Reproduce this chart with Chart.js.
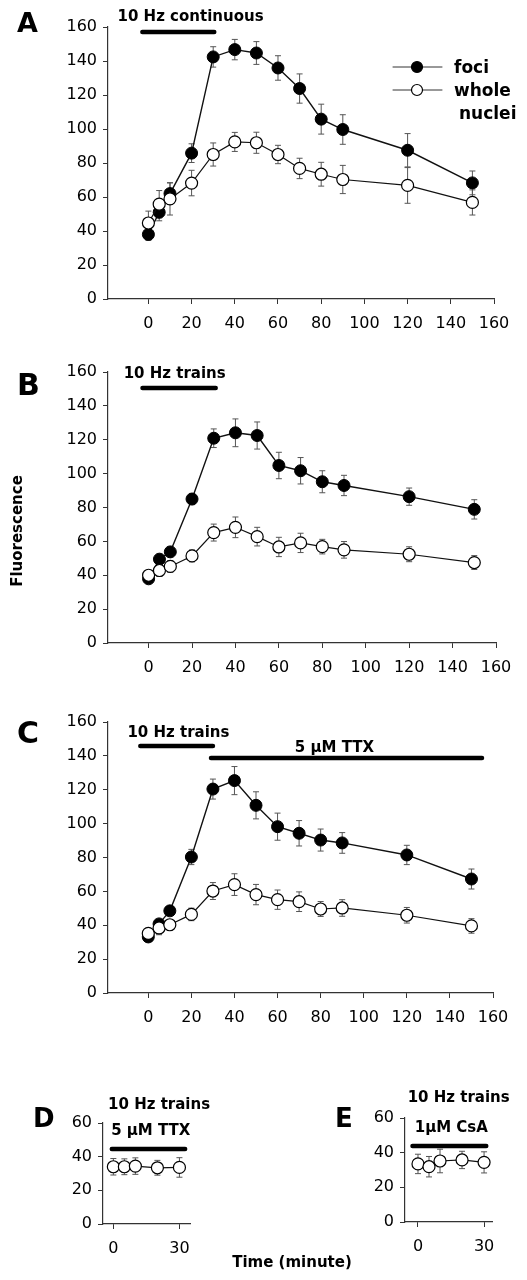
<!DOCTYPE html>
<html>
<head>
<meta charset="utf-8">
<script src="https://cdn.jsdelivr.net/npm/chart.js@4.4.0/dist/chart.umd.min.js"></script>
<style>
  body { margin: 0; background: #fff; width: 527px; height: 1280px; position: relative; overflow: hidden; font-family: "DejaVu Sans", sans-serif; }
  canvas { position: absolute; }
  .axisTitle { position: absolute; font-weight: bold; font-size: 15px; line-height: 18px; text-align: center; color: #000; }
</style>
</head>
<body>
<canvas id="chartA" width="527" height="340" style="left:0;top:0;width:527px;height:340px"></canvas>
<canvas id="chartB" width="527" height="340" style="left:0;top:340px;width:527px;height:340px"></canvas>
<canvas id="chartC" width="527" height="360" style="left:0;top:680px;width:527px;height:360px"></canvas>
<canvas id="chartD" width="260" height="200" style="left:0;top:1060px;width:260px;height:200px"></canvas>
<canvas id="chartE" width="227" height="200" style="left:300px;top:1060px;width:227px;height:200px"></canvas>
<div class="axisTitle" style="left:-53px;top:522px;width:140px;transform:rotate(-90deg)">Fluorescence</div>
<div class="axisTitle" style="left:192px;top:1253px;width:200px">Time (minute)</div>
<script>
// time points (minutes)
const timesLong = [0, 5, 10, 20, 30, 40, 50, 60, 70, 80, 90, 120, 150];
const timesShort = [0, 5, 10, 20, 30];
const seriesNames = ['foci', 'whole', 'nuclei'];

// tick labels
const xTicksLong = [0, 20, 40, 60, 80, 100, 120, 140, 160];
const yTicksLong = [0, 20, 40, 60, 80, 100, 120, 140, 160];
const xTicksShort = [0, 30];
const yTicksShort = [0, 20, 40, 60];

// A - 10 Hz continuous
const fociA = [38, 51, 62, 85.8, 142.4, 146.7, 144.7, 135.9, 123.8, 105.8, 99.7, 87.5, 68.3];
const fociErrA = [3.5, 5, 6.3, 5.5, 6, 6, 6.7, 7.2, 8.6, 8.8, 8.7, 9.8, 7];
const nucleiA = [44.7, 55.8, 58.9, 68.2, 85, 92.4, 91.9, 85, 76.8, 73.4, 70.3, 66.8, 56.8];
const nucleiErrA = [7, 8, 9.5, 7.5, 6.8, 5.6, 6.2, 5.4, 6, 7, 8.3, 10.5, 7.4];

// B - 10 Hz trains
const fociB = [37.9, 49.5, 53.8, 85, 120.9, 124.1, 122.5, 104.8, 101.7, 95.2, 93, 86.4, 78.9];
const fociErrB = [2, 3, 3, 3.3, 5.5, 8.2, 8, 7.8, 7.8, 6.5, 6, 5.1, 5.7];
const nucleiB = [40, 42.8, 45.2, 51.4, 65.2, 68.3, 62.8, 56.7, 59.1, 56.9, 55, 52.4, 47.5];
const nucleiErrB = [2, 3.5, 3.5, 3.5, 5, 6.1, 5.5, 5.7, 5.7, 4.3, 4.9, 4.4, 4.1];

// C - 10 Hz trains then TTX
const fociC = [33.1, 40.8, 48.5, 80.3, 120.4, 125.4, 110.8, 98.2, 94.3, 90.3, 88.6, 81.5, 67.3];
const fociErrC = [2, 2.5, 2.5, 4.5, 5.9, 8.3, 8, 8, 7.5, 6.5, 6.1, 5.7, 5.9];
const nucleiC = [35.2, 38.4, 40.3, 46.4, 60.2, 64, 58.1, 55.1, 53.9, 49.6, 50.2, 45.9, 39.6];
const nucleiErrC = [2, 4, 2.5, 3.7, 5, 6.4, 6, 5.7, 5.8, 4.4, 4.9, 4.6, 4.3];

// D - trains + TTX, E - trains + CsA
const nucleiD = [34, 34, 34.4, 33.4, 33.6];
const nucleiErrD = [4.9, 4.7, 4.9, 4.4, 5.8];
const nucleiE = [33.5, 31.9, 35.2, 35.8, 34.4];
const nucleiErrE = [5.6, 5.9, 6.8, 5, 6.1];

const FONT = 'DejaVu Sans';

function pts(xs, ys) {
  return xs.map((t, i) => ({ x: t, y: ys[i] }));
}

function fociSet(xs, ys, errs) {
  return {
    label: seriesNames[0], data: pts(xs, ys), errors: errs, order: 1,
    borderColor: '#111', borderWidth: 1.4, pointRadius: 6,
    pointBackgroundColor: '#000', pointBorderColor: '#000', pointBorderWidth: 1
  };
}
function nucleiSet(xs, ys, errs) {
  return {
    label: seriesNames[1] + ' ' + seriesNames[2], data: pts(xs, ys), errors: errs, order: 0,
    borderColor: '#111', borderWidth: 1.2, pointRadius: 6,
    pointBackgroundColor: '#fff', pointBorderColor: '#000', pointBorderWidth: 1.2
  };
}

// error bars go under the lines and markers
const errorBars = {
  id: 'errorBars',
  beforeDatasetsDraw(chart) {
    const ctx = chart.ctx, ys = chart.scales.y;
    ctx.save();
    ctx.strokeStyle = '#555';
    ctx.lineWidth = 1;
    chart.data.datasets.forEach((ds, i) => {
      chart.getDatasetMeta(i).data.forEach((p, j) => {
        const v = ds.data[j].y, e = ds.errors[j];
        const top = ys.getPixelForValue(v + e), bot = ys.getPixelForValue(v - e);
        ctx.beginPath();
        ctx.moveTo(p.x, top); ctx.lineTo(p.x, bot);
        ctx.moveTo(p.x - 3, top); ctx.lineTo(p.x + 3, top);
        ctx.moveTo(p.x - 3, bot); ctx.lineTo(p.x + 3, bot);
        ctx.stroke();
      });
    });
    ctx.restore();
  }
};

// stimulus bars, their labels, panel letter
function notesPlugin(cfg) {
  return {
    id: 'notes',
    afterDraw(chart) {
      const ctx = chart.ctx, xs = chart.scales.x, ys = chart.scales.y;
      ctx.save();
      ctx.strokeStyle = '#000';
      ctx.lineCap = 'round';
      ctx.lineWidth = 4.5;
      cfg.bars.forEach(b => {
        ctx.beginPath();
        ctx.moveTo(xs.getPixelForValue(b.x0), ys.getPixelForValue(b.y));
        ctx.lineTo(xs.getPixelForValue(b.x1), ys.getPixelForValue(b.y));
        ctx.stroke();
      });
      ctx.fillStyle = '#000';
      ctx.font = 'bold 15px "' + FONT + '"';
      ctx.textAlign = 'left';
      ctx.textBaseline = 'middle';
      cfg.texts.forEach(t => {
        ctx.fillText(t.text, xs.getPixelForValue(t.x), ys.getPixelForValue(t.y));
      });
      ctx.textBaseline = 'alphabetic';
      ctx.font = 'bold ' + cfg.letter.size + 'px "' + FONT + '"';
      ctx.fillText(cfg.letter.text, cfg.letter.x, cfg.letter.y);
      if (cfg.legend) drawLegend(chart);
      ctx.restore();
    }
  };
}

function drawLegend(chart) {
  const ctx = chart.ctx;
  const rows = [67, 90];
  chart.data.datasets.slice().sort((a, b) => b.order - a.order).forEach((ds, i) => {
    const y = rows[i];
    ctx.strokeStyle = '#333';
    ctx.lineWidth = 1;
    ctx.beginPath(); ctx.moveTo(393, y); ctx.lineTo(442, y); ctx.stroke();
    ctx.beginPath(); ctx.arc(417, y, 5.5, 0, Math.PI * 2);
    ctx.fillStyle = ds.pointBackgroundColor; ctx.fill();
    ctx.strokeStyle = '#000'; ctx.lineWidth = 1.2; ctx.stroke();
  });
  ctx.fillStyle = '#000';
  ctx.font = 'bold 17px "' + FONT + '"';
  ctx.textAlign = 'left';
  ctx.fillText(seriesNames[0], 454, 73);
  ctx.fillText(seriesNames[1], 454, 96);
  ctx.fillText(seriesNames[2], 459, 119);
}

function makePanel(id, cfg) {
  const tickFont = { family: FONT, size: 16 };
  return new Chart(document.getElementById(id), {
    type: 'line',
    data: { datasets: cfg.datasets },
    options: {
      responsive: false,
      animation: false,
      devicePixelRatio: 1,
      layout: { padding: cfg.pad },
      plugins: { legend: { display: false }, tooltip: { enabled: false } },
      scales: {
        x: {
          type: 'linear', min: cfg.xMin, max: cfg.xMax,
          afterBuildTicks: s => { s.ticks = cfg.xTicks.map(v => ({ value: v })); },
          afterFit: s => { s.height = 35; },
          grid: { drawOnChartArea: false, tickLength: 5, color: '#333', lineWidth: 1 },
          border: { color: '#333', width: 1.2 },
          ticks: { color: '#000', font: tickFont, padding: 10, maxRotation: 0, autoSkip: false }
        },
        y: {
          min: 0, max: cfg.yMax,
          afterBuildTicks: s => { s.ticks = cfg.yTicks.map(v => ({ value: v })); },
          afterFit: s => { s.width = cfg.yWidth; },
          grid: { drawOnChartArea: false, tickLength: 5, color: '#333', lineWidth: 1 },
          border: { color: '#333', width: 1.2 },
          ticks: { color: '#000', font: tickFont, padding: 6, autoSkip: false }
        }
      }
    },
    plugins: [errorBars, notesPlugin(cfg)]
  });
}

makePanel('chartA', {
  datasets: [fociSet(timesLong, fociA, fociErrA), nucleiSet(timesLong, nucleiA, nucleiErrA)],
  xMin: -18.7, xMax: 160, yMax: 160, xTicks: xTicksLong, yTicks: yTicksLong,
  pad: { left: 0, right: 33, top: 27, bottom: 6 }, yWidth: 108,
  bars: [{ x0: -2.8, x1: 30.5, y: 157 }],
  texts: [{ x: -14.3, y: 165.7, text: '10 Hz continuous' }],
  letter: { text: 'A', x: 17, y: 32, size: 27 },
  legend: true
});

makePanel('chartB', {
  datasets: [fociSet(timesLong, fociB, fociErrB), nucleiSet(timesLong, nucleiB, nucleiErrB)],
  xMin: -18.7, xMax: 160, yMax: 160, xTicks: xTicksLong, yTicks: yTicksLong,
  pad: { left: 0, right: 31, top: 32, bottom: 2 }, yWidth: 108,
  bars: [{ x0: -2.8, x1: 30.9, y: 150.5 }],
  texts: [{ x: -11.5, y: 158.8, text: '10 Hz trains' }],
  letter: { text: 'B', x: 17, y: 55, size: 30 }
});

makePanel('chartC', {
  datasets: [fociSet(timesLong, fociC, fociErrC), nucleiSet(timesLong, nucleiC, nucleiErrC)],
  xMin: -18.7, xMax: 160, yMax: 160, xTicks: xTicksLong, yTicks: yTicksLong,
  pad: { left: 0, right: 34, top: 42, bottom: 12 }, yWidth: 108,
  bars: [{ x0: -3.7, x1: 30, y: 145.8 }, { x0: 29.1, x1: 154.9, y: 138.7 }],
  texts: [{ x: -9.7, y: 153.5, text: '10 Hz trains' }, { x: 68, y: 144.6, text: '5 \u03bcM TTX' }],
  letter: { text: 'C', x: 17, y: 63, size: 30 }
});

makePanel('chartD', {
  datasets: [nucleiSet(timesShort, nucleiD, nucleiErrD)],
  xMin: -4.7, xMax: 34.8, yMax: 60, xTicks: xTicksShort, yTicks: yTicksShort,
  pad: { left: 0, right: 70, top: 63, bottom: 1 }, yWidth: 103,
  bars: [{ x0: -0.7, x1: 32.6, y: 44.5 }],
  texts: [{ x: -2.4, y: 70.5, text: '10 Hz trains' }, { x: -1, y: 55.1, text: '5 \u03bcM TTX' }],
  letter: { text: 'D', x: 33, y: 67, size: 26 }
});

makePanel('chartE', {
  datasets: [nucleiSet(timesShort, nucleiE, nucleiErrE)],
  xMin: -5.9, xMax: 33.6, yMax: 60, xTicks: xTicksShort, yTicks: yTicksShort,
  pad: { left: 0, right: 35, top: 58, bottom: 3 }, yWidth: 105,
  bars: [{ x0: -2.5, x1: 31, y: 43.8 }],
  texts: [{ x: -4.7, y: 71.4, text: '10 Hz trains' }, { x: -1.5, y: 54.1, text: '1\u03bcM CsA' }],
  letter: { text: 'E', x: 35, y: 67, size: 26 }
});
</script>
</body>
</html>
